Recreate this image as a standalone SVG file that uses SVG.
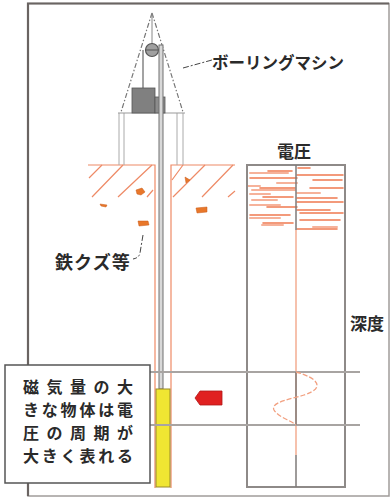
<svg xmlns="http://www.w3.org/2000/svg" width="392" height="499" viewBox="0 0 392 499">
  <style>
    .lbl { font-family: "Noto Sans CJK JP", "Noto Sans", sans-serif; font-weight: bold; fill: #2a2a2a; }
    .ground { stroke: #ee8a66; stroke-width: 1.2; fill: none; }
    .leg { stroke: #aaa; stroke-width: 1; fill: none; }
    .grid { stroke: #a8a4a2; stroke-width: 2; fill: none; }
    .trace { stroke: #ef7a50; stroke-width: 1.6; fill: none; stroke-linecap: round; }
    .trace2 { stroke: #f6b29a; stroke-width: 2; fill: none; stroke-linecap: round; }
    .scrap { fill: #e8772a; stroke: #c85a18; stroke-width: 0.5; }
    .lead { stroke: #444; stroke-width: 1; fill: none; stroke-dasharray: 6 2 2 2; }
  </style>

  <!-- outer frame -->
  <g id="frame">
    <rect x="28" y="3.5" width="361" height="492.5" fill="#fff" stroke="#a09c9a" stroke-width="1.5"/>
    <path d="M28,496 V3.5 H389" fill="none" stroke="#6a6462" stroke-width="2.2"/>
  </g>

  <!-- ground with hatching -->
  <g id="ground">
    <path class="ground" d="M88,165 H155 V488"/>
    <path class="ground" d="M171,488 V165 H235"/>
    <path class="ground" d="M89,178 L102,165 M92,197 L123,165 M118,197 L152,165 M147,197 L153,190"/>
    <path class="ground" d="M172,180 L183,165 M173,197 L205,165 M202,197 L233,165 M228,197 L235,191"/>
  </g>

  <!-- iron scraps in the soil -->
  <g id="scraps">
    <path class="scrap" d="M136,190 L142,188 L145,192 L141,195 L137,194 Z"/>
    <path class="scrap" d="M100,204 L107,205 L106,207 L101,206 Z"/>
    <path class="scrap" d="M138,221 L148,221 L149,225 L139,226 Z"/>
    <path class="scrap" d="M196,208 L207,207 L207,212 L197,213 Z"/>
    <path class="scrap" d="M185,177 L190,180 L186,183 Z"/>
  </g>

  <!-- boring machine -->
  <g id="boring-machine">
    <path d="M152,13 L121,112 M152,13 L183,112" stroke="#777" stroke-width="1.2" stroke-dasharray="5 2 1.5 2" fill="none"/>
    <line x1="152" y1="13" x2="152" y2="48" stroke="#888" stroke-width="1"/>
    <path class="leg" d="M119,113 V165 M124,113 V165 M177,113 V165 M183,113 V165"/>
    <line x1="118" y1="113" x2="185" y2="113" stroke="#999" stroke-width="1.2"/>
    <line x1="143" y1="50" x2="143" y2="88" stroke="#666" stroke-width="1.2"/>
    <rect x="132" y="88" width="23" height="25" fill="#808080" stroke="#555" stroke-width="0.8"/>
    <rect x="155" y="97" width="10" height="16" fill="#8c8c8c" stroke="#555" stroke-width="0.8"/>
    <circle cx="152" cy="50" r="6.5" fill="#a0a0a0" stroke="#555" stroke-width="1.2"/>
    <line x1="146" y1="50" x2="158" y2="50" stroke="#555" stroke-width="1"/>
    <!-- drill rod -->
    <rect x="159" y="45" width="4" height="344" fill="#d8d8d8" stroke="#707070" stroke-width="1"/>
  </g>

  <!-- probe at the rod tip -->
  <g id="probe">
    <rect x="156" y="389" width="14" height="98" fill="#f0e632" stroke="#9a8a2a" stroke-width="1"/>
  </g>

  <!-- labels with leaders -->
  <g id="label-machine">
    <path class="lead" d="M183,68 L212,60"/>
    <text class="lbl" x="212" y="69" font-size="16.5">ボーリングマシン</text>
  </g>
  <g id="label-scrap">
    <path class="lead" d="M143,235 L140,253 Q139,258 133,259"/>
    <text class="lbl" x="55" y="269" font-size="18" letter-spacing="1">鉄クズ等</text>
  </g>

  <!-- voltage/depth chart -->
  <g id="chart">
    <text class="lbl" x="277" y="158" font-size="17">電圧</text>
    <text class="lbl" x="350" y="330" font-size="17">深度</text>
    <line x1="296" y1="230" x2="296" y2="455" stroke="#f2a080" stroke-width="1.3"/>
    <g id="noise">
      <path class="trace" d="M298,168 H310 M297,175 H343 M313,180 H342 M310,188 H343 M297,198 H337 M297,202 H343 M297,210 H330 M300,213 H343 M300,220 H340 M297,229 H337"/>
      <path class="trace" d="M268,171 H292 M250,178 H297 M260,188 H295 M263,197 H293 M267,207 H297 M250,215 H290 M263,223 H293"/>
      <path class="trace2" d="M250,173 H288 M277,183 H297 M248,186 H260 M252,190 H295 M297,193 H320 M250,194 H270 M252,200 H277 M250,205 H280 M250,218 H280 M262,225 H283 M313,227 H337"/>
    </g>
    <rect x="247" y="165" width="98" height="322" fill="none" stroke="#8e8a88" stroke-width="2"/>
    <line x1="296" y1="165" x2="296" y2="230" stroke="#7e7a78" stroke-width="1.5"/>
    <line x1="296" y1="455" x2="296" y2="487" stroke="#7e7a78" stroke-width="1.5"/>
  </g>

  <!-- depth band of the strong signal -->
  <g id="band">
    <line class="grid" x1="150" y1="372" x2="360" y2="372"/>
    <line class="grid" x1="150" y1="425" x2="360" y2="425"/>
    <line x1="296" y1="372" x2="296" y2="425" stroke="#7e7a78" stroke-width="1.5"/>
    <path d="M296,372 C318,378 326,388 304,395 C292,399 270,402 274,410 C278,417 290,420 296,425" fill="none" stroke="#f2a080" stroke-width="1.3" stroke-dasharray="5 2"/>
  </g>

  <g id="marker">
    <path d="M195,398 L200,391 L222,391 L222,405 L200,405 Z" fill="#e02020" stroke="#b01818" stroke-width="0.8"/>
  </g>

  <!-- note box -->
  <g id="note">
    <rect x="5" y="365" width="145" height="118" fill="#fff" stroke="#555" stroke-width="1.5"/>
    <g class="lbl" font-size="16">
      <text x="23" y="393" letter-spacing="7.5">磁気量の大</text>
      <text x="23" y="416" letter-spacing="2.8">きな物体は電</text>
      <text x="23" y="439" letter-spacing="7.5">圧の周期が</text>
      <text x="23" y="462" letter-spacing="2.8">大きく表れる</text>
    </g>
  </g>
</svg>
